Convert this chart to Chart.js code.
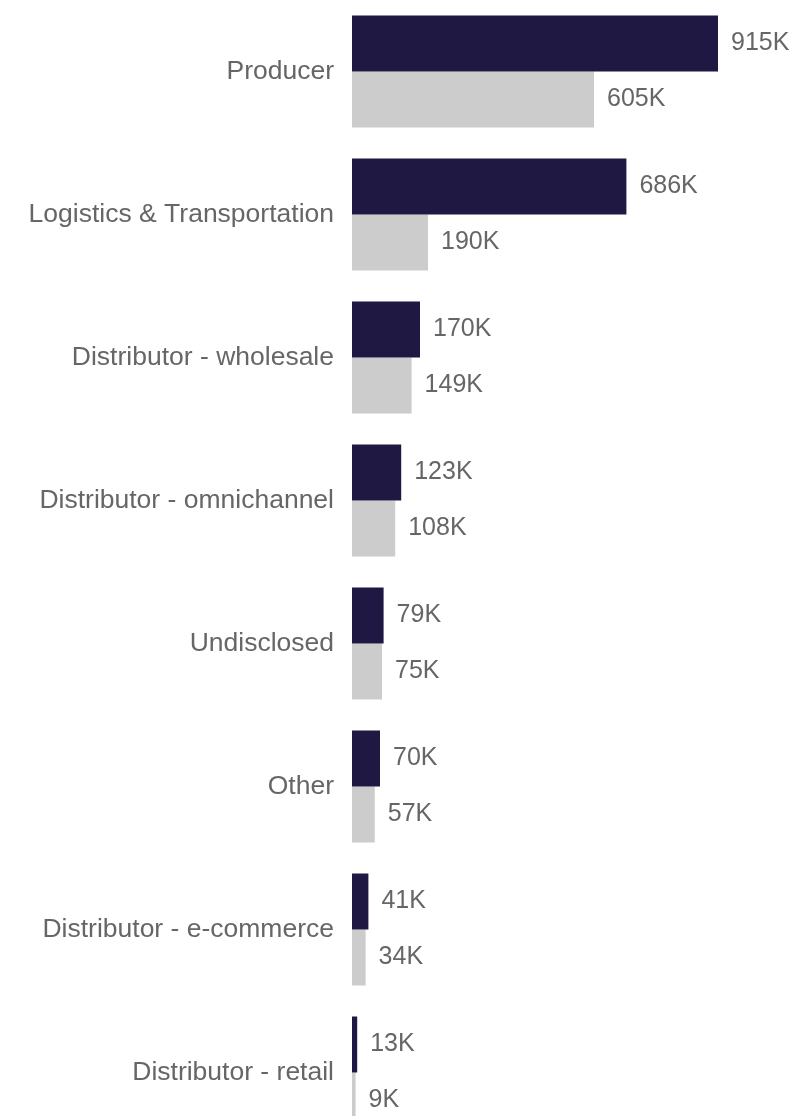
<!DOCTYPE html>
<html>
<head>
<meta charset="utf-8">
<script src="https://cdn.jsdelivr.net/npm/chart.js@4"></script>
<style>
  html, body { margin: 0; padding: 0; background: #fff; overflow: hidden; }
  #wrap { position: relative; width: 812px; height: 1144px; }
</style>
</head>
<body>
<div id="wrap"><canvas id="barChart"></canvas></div>
<script>
// categorias y valores (en miles)
const categorias = [
  "Producer",
  "Logistics & Transportation",
  "Distributor - wholesale",
  "Distributor - omnichannel",
  "Undisclosed",
  "Other",
  "Distributor - e-commerce",
  "Distributor - retail",
];
const serieOscura = [915, 686, 170, 123, 79, 70, 41, 13];
const serieClara = [605, 190, 149, 108, 75, 57, 34, 9];

const fuente = "'Liberation Sans', Arial, sans-serif";

// Etiquetas de valor a la derecha de cada barra
const etiquetasValor = {
  id: "etiquetasValor",
  afterDatasetsDraw(chart) {
    const ctx = chart.ctx;
    ctx.save();
    ctx.font = "25px " + fuente;
    ctx.fillStyle = "#666666";
    ctx.textAlign = "left";
    ctx.textBaseline = "middle";
    chart.data.datasets.forEach((ds, i) => {
      chart.getDatasetMeta(i).data.forEach((bar, j) => {
        ctx.fillText(ds.data[j] + "K", bar.x + 13, bar.y);
      });
    });
    ctx.restore();
  },
};

let ctx = document.getElementById("barChart").getContext("2d");
let barChart = new Chart(ctx, {
  type: "bar",
  data: {
    labels: categorias,
    datasets: [
      {
        data: serieOscura,
        backgroundColor: "#1e1842",
        borderWidth: 0,
      },
      {
        data: serieClara,
        backgroundColor: "#cccccc",
        borderWidth: 0,
      },
    ],
  },
  options: {
    indexAxis: "y",
    responsive: true,
    maintainAspectRatio: false,
    animation: false,
    categoryPercentage: 0.7832,
    barPercentage: 1,
    layout: { padding: 0 },
    plugins: {
      legend: { display: false },
      tooltip: { enabled: false },
    },
    scales: {
      x: {
        display: false,
        min: 0,
        max: 1150,
      },
      y: {
        grid: { display: false, drawTicks: false },
        border: { display: false },
        ticks: {
          color: "#666666",
          padding: 18,
          font: { size: 26.5, family: fuente },
        },
        afterFit: function (axis) {
          axis.width = 352;
          axis.paddingTop = 0;
          axis.paddingBottom = 0;
        },
      },
    },
  },
  plugins: [etiquetasValor],
});
</script>
</body>
</html>
